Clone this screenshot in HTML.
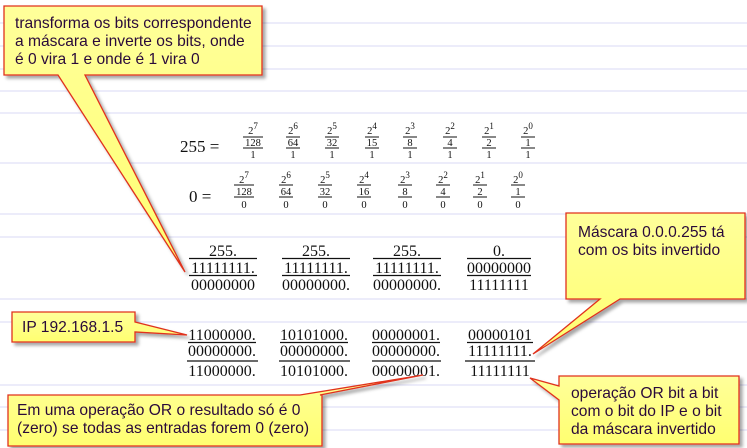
<!DOCTYPE html>
<html><head><meta charset="utf-8"><style>
html,body{margin:0;padding:0;background:#fff;}
svg{display:block}
.m{font-family:"Liberation Serif",serif;fill:#111}
.c{font-family:"Liberation Sans",sans-serif;font-size:15.6px;fill:#2a0a3a}
</style></head><body>
<svg width="747" height="448" viewBox="0 0 747 448" xmlns="http://www.w3.org/2000/svg">
<defs>
<linearGradient id="g" x1="0" y1="0" x2="0" y2="1"><stop offset="0" stop-color="#ffff9a"/><stop offset="1" stop-color="#ffff70"/></linearGradient>
<filter id="s" x="-10%" y="-10%" width="130%" height="140%"><feDropShadow dx="3" dy="3" stdDeviation="1.5" flood-color="#000" flood-opacity="0.35"/></filter>
</defs>
<g stroke="#d8d8f4" stroke-width="1">
<line x1="0" y1="23" x2="747" y2="23"/><line x1="0" y1="46" x2="747" y2="46"/><line x1="0" y1="69" x2="747" y2="69"/><line x1="0" y1="91" x2="747" y2="91"/><line x1="0" y1="113" x2="747" y2="113"/><line x1="0" y1="163" x2="747" y2="163"/><line x1="0" y1="214" x2="747" y2="214"/><line x1="0" y1="237" x2="747" y2="237"/><line x1="0" y1="299" x2="747" y2="299"/><line x1="0" y1="322" x2="747" y2="322"/><line x1="0" y1="385" x2="747" y2="385"/><line x1="0" y1="407" x2="747" y2="407"/><line x1="0" y1="430" x2="747" y2="430"/>
</g>
<g class="m">
<text x="180" y="152" font-size="17">255 =</text>
<text x="189" y="202" font-size="17">0 =</text>
</g>
<g class="m" font-size="10.5" text-anchor="middle">
<g>
<text x="253" y="134">2<tspan dy="-5" font-size="9">7</tspan></text><line x1="243" y1="137" x2="263" y2="137" stroke="#111"/><text x="253" y="146">128</text><line x1="243" y1="148" x2="263" y2="148" stroke="#111"/><text x="253" y="158">1</text>
<text x="293" y="134">2<tspan dy="-5" font-size="9">6</tspan></text><line x1="286" y1="137" x2="300" y2="137" stroke="#111"/><text x="293" y="146">64</text><line x1="286" y1="148" x2="300" y2="148" stroke="#111"/><text x="293" y="158">1</text>
<text x="332" y="134">2<tspan dy="-5" font-size="9">5</tspan></text><line x1="325" y1="137" x2="339" y2="137" stroke="#111"/><text x="332" y="146">32</text><line x1="325" y1="148" x2="339" y2="148" stroke="#111"/><text x="332" y="158">1</text>
<text x="372" y="134">2<tspan dy="-5" font-size="9">4</tspan></text><line x1="365" y1="137" x2="379" y2="137" stroke="#111"/><text x="372" y="146">15</text><line x1="365" y1="148" x2="379" y2="148" stroke="#111"/><text x="372" y="158">1</text>
<text x="410" y="134">2<tspan dy="-5" font-size="9">3</tspan></text><line x1="403" y1="137" x2="417" y2="137" stroke="#111"/><text x="410" y="146">8</text><line x1="403" y1="148" x2="417" y2="148" stroke="#111"/><text x="410" y="158">1</text>
<text x="450" y="134">2<tspan dy="-5" font-size="9">2</tspan></text><line x1="443" y1="137" x2="457" y2="137" stroke="#111"/><text x="450" y="146">4</text><line x1="443" y1="148" x2="457" y2="148" stroke="#111"/><text x="450" y="158">1</text>
<text x="489" y="134">2<tspan dy="-5" font-size="9">1</tspan></text><line x1="482" y1="137" x2="496" y2="137" stroke="#111"/><text x="489" y="146">2</text><line x1="482" y1="148" x2="496" y2="148" stroke="#111"/><text x="489" y="158">1</text>
<text x="528" y="134">2<tspan dy="-5" font-size="9">0</tspan></text><line x1="521" y1="137" x2="535" y2="137" stroke="#111"/><text x="528" y="146">1</text><line x1="521" y1="148" x2="535" y2="148" stroke="#111"/><text x="528" y="158">1</text>
</g>
<g>
<text x="244" y="183">2<tspan dy="-5" font-size="9">7</tspan></text><line x1="234" y1="185" x2="254" y2="185" stroke="#111"/><text x="244" y="195">128</text><line x1="234" y1="197" x2="254" y2="197" stroke="#111"/><text x="244" y="208">0</text>
<text x="286" y="183">2<tspan dy="-5" font-size="9">6</tspan></text><line x1="279" y1="185" x2="293" y2="185" stroke="#111"/><text x="286" y="195">64</text><line x1="279" y1="197" x2="293" y2="197" stroke="#111"/><text x="286" y="208">0</text>
<text x="325" y="183">2<tspan dy="-5" font-size="9">5</tspan></text><line x1="318" y1="185" x2="332" y2="185" stroke="#111"/><text x="325" y="195">32</text><line x1="318" y1="197" x2="332" y2="197" stroke="#111"/><text x="325" y="208">0</text>
<text x="364" y="183">2<tspan dy="-5" font-size="9">4</tspan></text><line x1="357" y1="185" x2="371" y2="185" stroke="#111"/><text x="364" y="195">16</text><line x1="357" y1="197" x2="371" y2="197" stroke="#111"/><text x="364" y="208">0</text>
<text x="405" y="183">2<tspan dy="-5" font-size="9">3</tspan></text><line x1="398" y1="185" x2="412" y2="185" stroke="#111"/><text x="405" y="195">8</text><line x1="398" y1="197" x2="412" y2="197" stroke="#111"/><text x="405" y="208">0</text>
<text x="443" y="183">2<tspan dy="-5" font-size="9">2</tspan></text><line x1="436" y1="185" x2="450" y2="185" stroke="#111"/><text x="443" y="195">4</text><line x1="436" y1="197" x2="450" y2="197" stroke="#111"/><text x="443" y="208">0</text>
<text x="480" y="183">2<tspan dy="-5" font-size="9">1</tspan></text><line x1="473" y1="185" x2="487" y2="185" stroke="#111"/><text x="480" y="195">2</text><line x1="473" y1="197" x2="487" y2="197" stroke="#111"/><text x="480" y="208">0</text>
<text x="518" y="183">2<tspan dy="-5" font-size="9">0</tspan></text><line x1="511" y1="185" x2="525" y2="185" stroke="#111"/><text x="518" y="195">1</text><line x1="511" y1="197" x2="525" y2="197" stroke="#111"/><text x="518" y="208">0</text>
</g>
</g>
<g class="m" font-size="16" text-anchor="middle">
<text x="223" y="256">255.</text><text x="223" y="273">11111111.</text><text x="223" y="290">00000000</text>
<text x="316" y="256">255.</text><text x="316" y="273">11111111.</text><text x="316" y="290">00000000.</text>
<text x="407" y="256">255.</text><text x="407" y="273">11111111.</text><text x="407" y="290">00000000.</text>
<text x="499" y="256">0.</text><text x="499" y="273">00000000</text><text x="499" y="290">11111111</text>
<text x="222" y="340">11000000.</text><text x="222" y="356">00000000.</text><text x="222" y="376">11000000.</text>
<text x="314" y="340">10101000.</text><text x="314" y="356">00000000.</text><text x="314" y="376">10101000.</text>
<text x="406" y="340">00000001.</text><text x="406" y="356">00000000.</text><text x="406" y="376">00000001.</text>
<text x="500" y="340">00000101</text><text x="500" y="356">11111111.</text><text x="500" y="376">11111111</text>
</g>
<g stroke="#111" stroke-width="1.2">
<line x1="189" y1="258.5" x2="257" y2="258.5"/><line x1="189" y1="275.5" x2="257" y2="275.5"/>
<line x1="282" y1="258.5" x2="350" y2="258.5"/><line x1="282" y1="275.5" x2="350" y2="275.5"/>
<line x1="373" y1="258.5" x2="441" y2="258.5"/><line x1="373" y1="275.5" x2="441" y2="275.5"/>
<line x1="467" y1="258.5" x2="531" y2="258.5"/><line x1="467" y1="275.5" x2="531" y2="275.5"/>
<line x1="188" y1="342.5" x2="256" y2="342.5"/><line x1="187" y1="361" x2="258" y2="361"/>
<line x1="280" y1="342.5" x2="348" y2="342.5"/><line x1="279" y1="361" x2="350" y2="361"/>
<line x1="372" y1="342.5" x2="440" y2="342.5"/><line x1="372" y1="361" x2="441" y2="361"/>
<line x1="467" y1="342.5" x2="533" y2="342.5"/><line x1="465" y1="361" x2="535" y2="361"/>
</g>
<g fill="url(#g)" stroke="#e0301c" stroke-width="1.3" filter="url(#s)">
<path d="M4,6 H262 V75 H85 L185,272 L58,75 H4 Z"/>
<path d="M566,213 H745 V299 H620 L533,354 L600,299 H566 Z"/>
<path d="M559,376 H739 V444 H559 V400 L530,378 L559,386 Z"/>
<path d="M12,312 H135 V322 L187,335 L135,332 V342 H12 Z"/>
<path d="M8,395 H300 L423,375 L320,395 H322 V446 H8 Z"/>
</g>
<g class="c">
<text x="15" y="28">transforma os bits correspondente</text>
<text x="15" y="46">a máscara e inverte os bits, onde</text>
<text x="15" y="64">é 0 vira 1 e onde é 1 vira 0</text>
<text x="578" y="237">Máscara 0.0.0.255 tá</text>
<text x="578" y="255">com os bits invertido</text>
<text x="571" y="398">operação OR bit a bit</text>
<text x="571" y="416">com o bit do IP e o bit</text>
<text x="571" y="434">da máscara invertido</text>
<text x="22" y="332">IP 192.168.1.5</text>
<text x="17" y="415">Em uma operação OR o resultado só é 0</text>
<text x="17" y="433">(zero) se todas as entradas forem 0 (zero)</text>
</g>
</svg>
</body></html>
